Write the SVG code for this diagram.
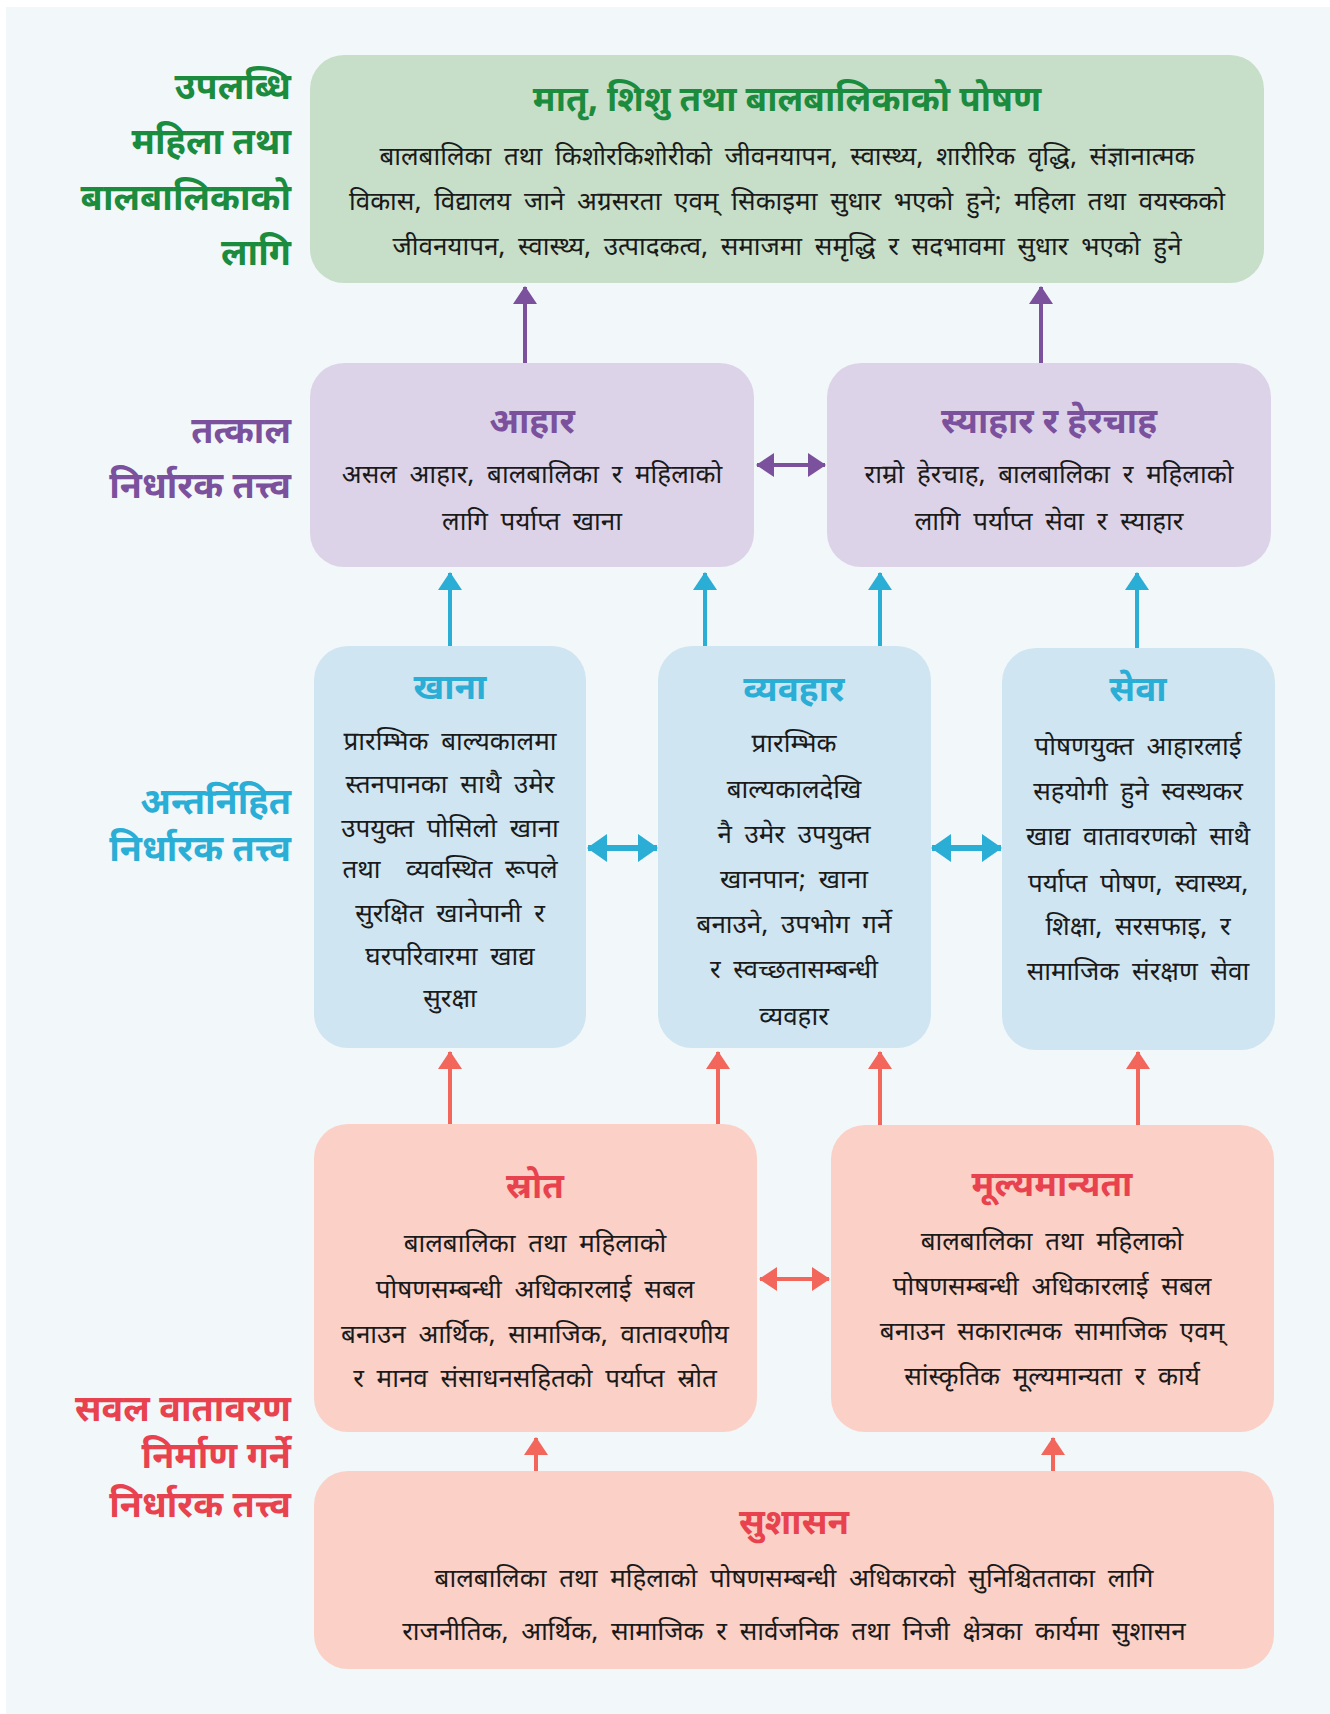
<svg xmlns="http://www.w3.org/2000/svg" width="1330" height="1714" viewBox="0 0 1330 1714">
<style>
text{font-family:"Noto Sans Devanagari","Lohit Devanagari","Noto Sans",sans-serif;text-anchor:middle}
.b{font-size:26px;fill:#1a1a1a;word-spacing:6px}
.t{font-size:35px;font-weight:bold}
.s{font-size:36px;font-weight:bold;text-anchor:end}
.g{fill:#1b8b3d}.p{fill:#7b519d}.c{fill:#2aaed6}.r{fill:#e9424f}
.bg{fill:#c7dec9}.bp{fill:#ddd3e8}.bc{fill:#cfe5f1}.br{fill:#fbd0c6}
.lp{stroke:#7b519d;stroke-width:4;fill:none}
.lc{stroke:#2aaed6;stroke-width:4;fill:none}
.lr{stroke:#f2665c;stroke-width:4;fill:none}
</style>
<defs>
<marker id="ap" viewBox="0 0 18 24" refX="17" refY="12" markerWidth="18" markerHeight="24" markerUnits="userSpaceOnUse" orient="auto-start-reverse"><path d="M0,0L18,12L0,24z" fill="#7b519d"/></marker>
<marker id="ac" viewBox="0 0 18 24" refX="17" refY="12" markerWidth="18" markerHeight="24" markerUnits="userSpaceOnUse" orient="auto-start-reverse"><path d="M0,0L18,12L0,24z" fill="#2aaed6"/></marker>
<marker id="acb" viewBox="0 0 20 28" refX="19" refY="14" markerWidth="20" markerHeight="28" markerUnits="userSpaceOnUse" orient="auto-start-reverse"><path d="M0,0L20,14L0,28z" fill="#2aaed6"/></marker>
<marker id="ar" viewBox="0 0 18 24" refX="17" refY="12" markerWidth="18" markerHeight="24" markerUnits="userSpaceOnUse" orient="auto-start-reverse"><path d="M0,0L18,12L0,24z" fill="#f2665c"/></marker>
</defs>
<rect x="6" y="7" width="1324" height="1707" fill="#f2f7fa"/>

<g id="labels">
<text class="s g" x="291" y="99">उपलब्धि</text>
<text class="s g" x="291" y="154">महिला तथा</text>
<text class="s g" x="291" y="210">बालबालिकाको</text>
<text class="s g" x="291" y="265">लागि</text>
<text class="s p" x="291" y="443">तत्काल</text>
<text class="s p" x="291" y="498">निर्धारक तत्त्व</text>
<text class="s c" x="291" y="814">अन्तर्निहित</text>
<text class="s c" x="291" y="861">निर्धारक तत्त्व</text>
<text class="s r" x="291" y="1421">सवल वातावरण</text>
<text class="s r" x="291" y="1468">निर्माण गर्ने</text>
<text class="s r" x="291" y="1517">निर्धारक तत्त्व</text>
</g>

<g id="connectors">
<line class="lp" x1="525" y1="363" x2="525" y2="287" marker-end="url(#ap)"/>
<line class="lp" x1="1041" y1="363" x2="1041" y2="287" marker-end="url(#ap)"/>
<line class="lp" x1="757" y1="465" x2="825" y2="465" marker-start="url(#ap)" marker-end="url(#ap)"/>
<line class="lc" x1="450" y1="646" x2="450" y2="573" marker-end="url(#ac)"/>
<line class="lc" x1="705" y1="646" x2="705" y2="573" marker-end="url(#ac)"/>
<line class="lc" x1="880" y1="646" x2="880" y2="573" marker-end="url(#ac)"/>
<line class="lc" x1="1137" y1="648" x2="1137" y2="573" marker-end="url(#ac)"/>
<line class="lc" style="stroke-width:6" x1="588" y1="848" x2="657" y2="848" marker-start="url(#acb)" marker-end="url(#acb)"/>
<line class="lc" style="stroke-width:6" x1="932" y1="848" x2="1001" y2="848" marker-start="url(#acb)" marker-end="url(#acb)"/>
<line class="lr" x1="450" y1="1124" x2="450" y2="1052" marker-end="url(#ar)"/>
<line class="lr" x1="718" y1="1124" x2="718" y2="1052" marker-end="url(#ar)"/>
<line class="lr" x1="880" y1="1125" x2="880" y2="1052" marker-end="url(#ar)"/>
<line class="lr" x1="1138" y1="1125" x2="1138" y2="1052" marker-end="url(#ar)"/>
<line class="lr" x1="760" y1="1279" x2="829" y2="1279" marker-start="url(#ar)" marker-end="url(#ar)"/>
<line class="lr" x1="536" y1="1471" x2="536" y2="1438" marker-end="url(#ar)"/>
<line class="lr" x1="1053" y1="1471" x2="1053" y2="1438" marker-end="url(#ar)"/>
</g>

<g id="outcome">
<rect class="bg" x="310" y="55" width="954" height="228" rx="34"/>
<text class="t g" x="787" y="111">मातृ, शिशु तथा बालबालिकाको पोषण</text>
<text class="b" x="787" y="165">बालबालिका तथा किशोरकिशोरीको जीवनयापन, स्वास्थ्य, शारीरिक वृद्धि, संज्ञानात्मक</text>
<text class="b" x="787" y="210">विकास, विद्यालय जाने अग्रसरता एवम् सिकाइमा सुधार भएको हुने; महिला तथा वयस्कको</text>
<text class="b" x="787" y="255">जीवनयापन, स्वास्थ्य, उत्पादकत्व, समाजमा समृद्धि र सदभावमा सुधार भएको हुने</text>
</g>

<g id="aahaar">
<rect class="bp" x="310" y="363" width="444" height="204" rx="34"/>
<text class="t p" x="532" y="433">आहार</text>
<text class="b" x="532" y="483">असल आहार, बालबालिका र महिलाको</text>
<text class="b" x="532" y="530">लागि पर्याप्त खाना</text>
</g>

<g id="syahaar">
<rect class="bp" x="827" y="363" width="444" height="204" rx="34"/>
<text class="t p" x="1049" y="433">स्याहार र हेरचाह</text>
<text class="b" x="1049" y="483">राम्रो हेरचाह, बालबालिका र महिलाको</text>
<text class="b" x="1049" y="530">लागि पर्याप्त सेवा र स्याहार</text>
</g>

<g id="khana">
<rect class="bc" x="314" y="646" width="272" height="402" rx="34"/>
<text class="t c" x="450" y="699">खाना</text>
<text class="b" x="450" y="750">प्रारम्भिक बाल्यकालमा</text>
<text class="b" x="450" y="793">स्तनपानका साथै उमेर</text>
<text class="b" x="450" y="837">उपयुक्त पोसिलो खाना</text>
<text class="b" x="450" y="878" xml:space="preserve">तथा  व्यवस्थित रूपले</text>
<text class="b" x="450" y="922">सुरक्षित खानेपानी र</text>
<text class="b" x="450" y="965">घरपरिवारमा खाद्य</text>
<text class="b" x="450" y="1007">सुरक्षा</text>
</g>

<g id="byabahaar">
<rect class="bc" x="658" y="646" width="273" height="402" rx="34"/>
<text class="t c" x="794" y="701">व्यवहार</text>
<text class="b" x="794" y="752">प्रारम्भिक</text>
<text class="b" x="794" y="798">बाल्यकालदेखि</text>
<text class="b" x="794" y="843">नै उमेर उपयुक्त</text>
<text class="b" x="794" y="888">खानपान; खाना</text>
<text class="b" x="794" y="933">बनाउने, उपभोग गर्ने</text>
<text class="b" x="794" y="978">र स्वच्छतासम्बन्धी</text>
<text class="b" x="794" y="1025">व्यवहार</text>
</g>

<g id="sewa">
<rect class="bc" x="1002" y="648" width="273" height="402" rx="34"/>
<text class="t c" x="1138" y="701">सेवा</text>
<text class="b" x="1138" y="755">पोषणयुक्त आहारलाई</text>
<text class="b" x="1138" y="800">सहयोगी हुने स्वस्थकर</text>
<text class="b" x="1138" y="845">खाद्य वातावरणको साथै</text>
<text class="b" x="1138" y="892">पर्याप्त पोषण, स्वास्थ्य,</text>
<text class="b" x="1138" y="935">शिक्षा, सरसफाइ, र</text>
<text class="b" x="1138" y="980">सामाजिक संरक्षण सेवा</text>
</g>

<g id="srot">
<rect class="br" x="314" y="1124" width="443" height="308" rx="34"/>
<text class="t r" x="535" y="1198">स्रोत</text>
<text class="b" x="535" y="1252">बालबालिका तथा महिलाको</text>
<text class="b" x="535" y="1298">पोषणसम्बन्धी अधिकारलाई सबल</text>
<text class="b" x="535" y="1343">बनाउन आर्थिक, सामाजिक, वातावरणीय</text>
<text class="b" x="535" y="1387">र मानव संसाधनसहितको पर्याप्त स्रोत</text>
</g>

<g id="mulyamanyata">
<rect class="br" x="831" y="1125" width="443" height="307" rx="34"/>
<text class="t r" x="1052" y="1196">मूल्यमान्यता</text>
<text class="b" x="1052" y="1250">बालबालिका तथा महिलाको</text>
<text class="b" x="1052" y="1295">पोषणसम्बन्धी अधिकारलाई सबल</text>
<text class="b" x="1052" y="1340">बनाउन सकारात्मक सामाजिक एवम्</text>
<text class="b" x="1052" y="1385">सांस्कृतिक मूल्यमान्यता र कार्य</text>
</g>

<g id="sushasan">
<rect class="br" x="314" y="1471" width="960" height="198" rx="34"/>
<text class="t r" x="794" y="1534">सुशासन</text>
<text class="b" x="794" y="1587">बालबालिका तथा महिलाको पोषणसम्बन्धी अधिकारको सुनिश्चितताका लागि</text>
<text class="b" x="794" y="1640">राजनीतिक, आर्थिक, सामाजिक र सार्वजनिक तथा निजी क्षेत्रका कार्यमा सुशासन</text>
</g>
</svg>
